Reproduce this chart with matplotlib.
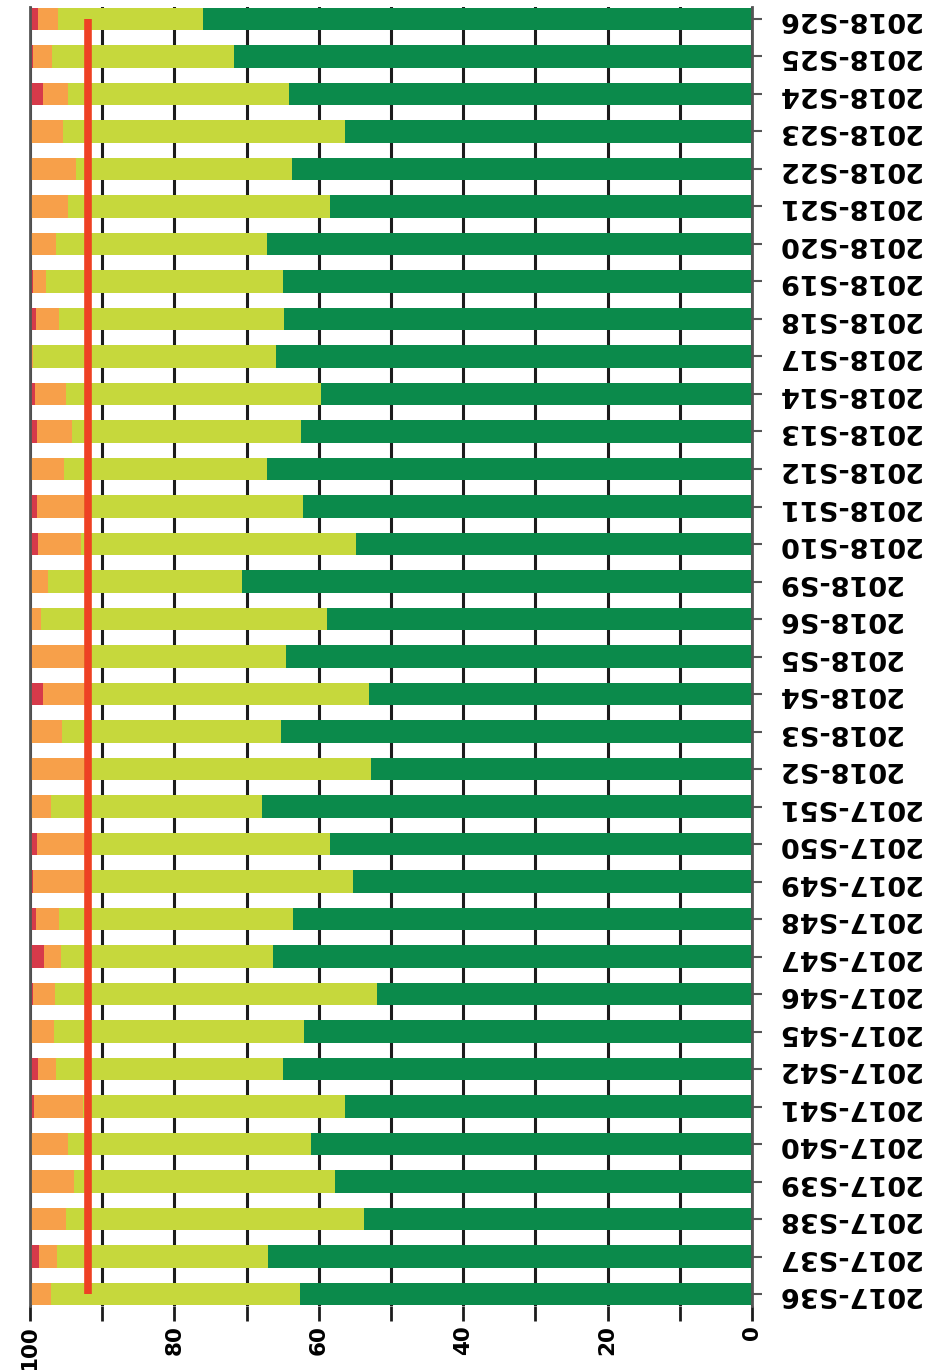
import numpy as np
import matplotlib
matplotlib.use("Agg")
import matplotlib.pyplot as plt

# weeks, bottom to top
weeks = ['2017-S36', '2017-S37', '2017-S38', '2017-S39', '2017-S40', '2017-S41',
         '2017-S42', '2017-S45', '2017-S46', '2017-S47', '2017-S48', '2017-S49',
         '2017-S50', '2017-S51', '2018-S2', '2018-S3', '2018-S4', '2018-S5',
         '2018-S6', '2018-S9', '2018-S10', '2018-S11', '2018-S12', '2018-S13',
         '2018-S14', '2018-S17', '2018-S18', '2018-S19', '2018-S20', '2018-S21',
         '2018-S22', '2018-S23', '2018-S24', '2018-S25', '2018-S26']

# shares in %, one value per week
dark_green = [62.6, 67.0, 53.8, 57.7, 61.1, 56.4, 65.0, 62.0, 52.0, 66.3, 63.6, 55.3,
              58.5, 67.9, 52.8, 65.3, 53.1, 64.6, 58.8, 70.7, 54.8, 62.2, 67.2, 62.4,
              59.7, 65.9, 64.8, 64.9, 67.2, 58.5, 63.7, 56.4, 64.1, 71.8, 76.1]
light_green = [34.5, 29.3, 41.2, 36.2, 33.6, 36.3, 31.4, 34.7, 44.5, 29.4, 32.4, 37.2,
               33.9, 29.2, 39.7, 30.3, 39.3, 27.9, 39.7, 26.8, 38.2, 30.3, 28.1, 31.8,
               35.3, 33.7, 31.2, 32.9, 29.2, 36.2, 29.9, 39.0, 30.6, 25.1, 20.0]
orange = [2.9, 2.5, 5.0, 6.1, 5.3, 6.7, 2.5, 3.3, 3.1, 2.4, 3.2, 7.1,
          6.6, 2.9, 7.5, 4.4, 5.8, 7.2, 1.5, 2.5, 5.9, 6.5, 4.7, 4.8,
          4.3, 0.4, 3.2, 1.8, 3.6, 5.3, 6.4, 4.6, 3.5, 2.7, 2.8]
red = [0.0, 1.2, 0.0, 0.0, 0.0, 0.6, 1.1, 0.0, 0.4, 1.9, 0.8, 0.4,
       1.0, 0.0, 0.0, 0.0, 1.8, 0.3, 0.0, 0.0, 1.1, 1.0, 0.0, 1.0,
       0.7, 0.0, 0.8, 0.4, 0.0, 0.0, 0.0, 0.0, 1.8, 0.4, 1.1]

target = 92
x_ticks = [0, 10, 20, 30, 40, 50, 60, 70, 80, 90, 100]
x_labels = ['0', '', '20', '', '40', '', '60', '', '80', '', '100']

series = [(dark_green, '#0b8a4b'), (light_green, '#c6d83c'),
          (orange, '#f7a04a'), (red, '#d63a4a')]

fig = plt.figure(figsize=(9.37, 13.7), dpi=100)
ax = fig.add_axes([0.032, 0.0467, 0.7706, 0.9482])

y = np.arange(len(weeks))
left = np.zeros(len(weeks))
for vals, col in series:
    vals = np.array(vals)
    ax.barh(y, vals, left=left, height=0.6, color=col, zorder=2)
    left += vals

# target line
ax.vlines(target, 0, len(weeks) - 1, color='#ee4124', lw=5.5, zorder=3)

ax.set_xlim(100, 0)
ax.set_ylim(-0.32, len(weeks) - 1 + 0.32)
ax.set_axisbelow(True)
ax.grid(axis='x', color='#1c1c1c', lw=2.2, zorder=0)

ax.set_xticks(x_ticks)
ax.set_xticklabels(x_labels, rotation=90, fontsize=15.5, fontweight='bold')
ax.tick_params(axis='x', length=11, width=2, color='#1c1c1c', pad=3)

ax.yaxis.tick_right()
ax.set_yticks(y)
ax.set_yticklabels(weeks, rotation=180, fontsize=19.5, fontweight='bold',
                   va='center', ha='left')
ax.tick_params(axis='y', length=7, width=1.5, color='#555555', pad=10)

for s in ['top', 'bottom']:
    ax.spines[s].set_visible(False)
for s in ['left', 'right']:
    ax.spines[s].set_color('#555555')
    ax.spines[s].set_linewidth(2)

fig.savefig('out.png', dpi=100, facecolor='white')
